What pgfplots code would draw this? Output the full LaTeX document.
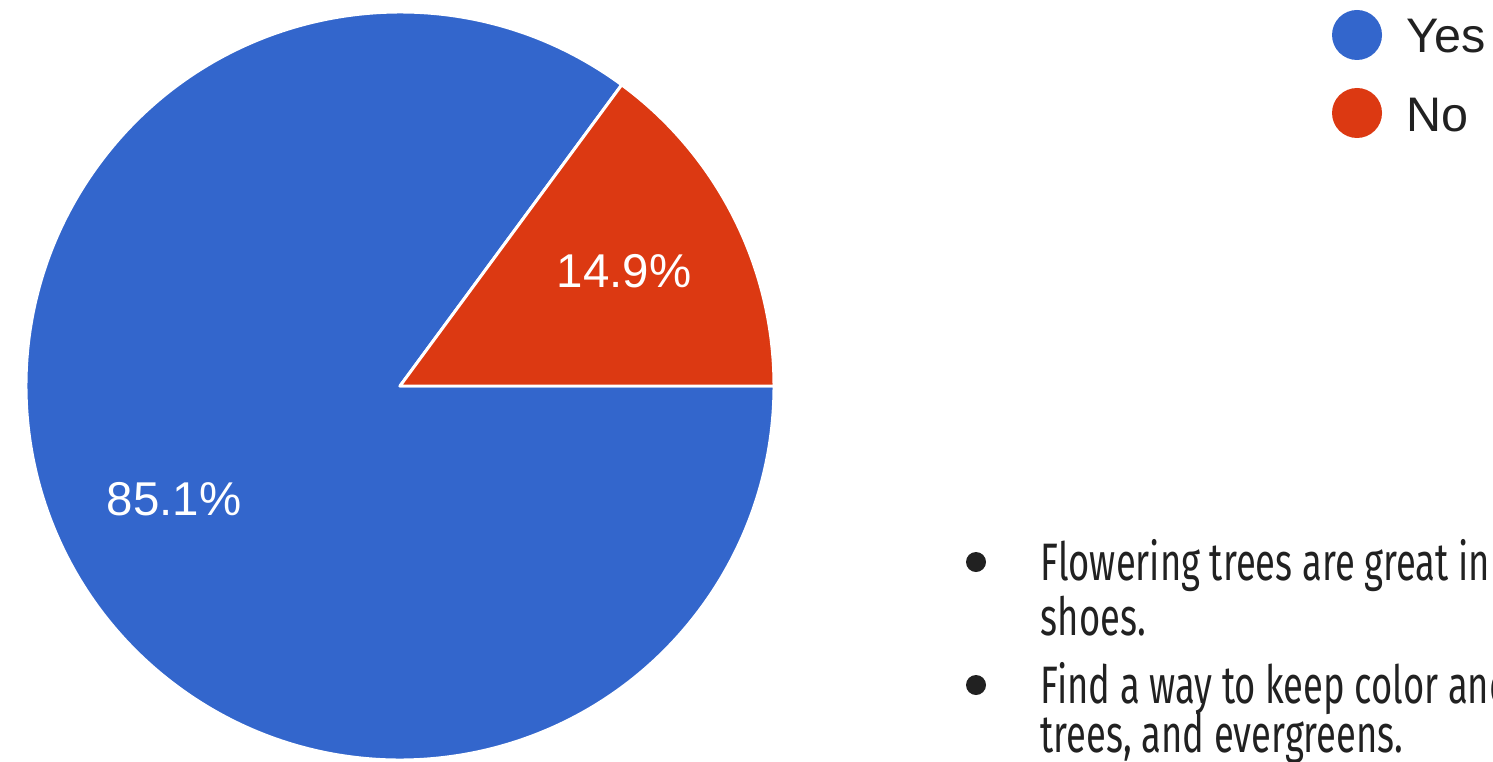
\documentclass[border=0pt]{standalone}
\usepackage{pgfplots}
\pgfplotsset{compat=1.18}
\usepackage{pgfplotstable}
\usepackage{fontspec}
\setmainfont{Liberation Sans}
\newfontfamily\condfont[FakeStretch=0.69]{Fira Sans}
\definecolor{pieBlue}{HTML}{3366CC}
\definecolor{pieRed}{HTML}{DC3912}
\definecolor{txt}{HTML}{212121}
\pgfplotstableread{
label value
Yes 85.1
No 14.9
}\piedata
\begin{document}
\begin{tikzpicture}
\pgfplotstablegetelem{0}{value}\of\piedata \let\yesval\pgfplotsretval
\pgfplotstablegetelem{1}{value}\of\piedata \let\noval\pgfplotsretval
\pgfmathsetmacro\noangle{3.6*\noval}
\useasboundingbox (0,0) rectangle (14.93cm,7.61cm);
\clip (0,0) rectangle (14.93cm,7.61cm);
\begin{axis}[at={(0,0)}, anchor=south west, scale only axis,
  width=14.93cm, height=7.61cm, xmin=0, xmax=1493, ymin=0, ymax=761,
  hide axis, clip=false]
\filldraw[fill=pieBlue, draw=white, line width=0.85pt, line join=round] (axis cs:400,375) -- ++(\noangle:3.74cm) arc[start angle=\noangle, end angle=360, radius=3.74cm] -- cycle;
\filldraw[fill=pieRed, draw=white, line width=0.85pt, line join=round] (axis cs:400,375) -- ++(0:3.74cm) arc[start angle=0, end angle=\noangle, radius=3.74cm] -- cycle;
\node[text=white, anchor=base, inner sep=0pt, font=\fontsize{13.5pt}{16pt}\selectfont] at (axis cs:624,474) {\noval\%};
\node[text=white, anchor=base, inner sep=0pt, font=\fontsize{13.5pt}{16pt}\selectfont] at (axis cs:174,246) {\yesval\%};
% legend
\fill[pieBlue] (axis cs:1357,726) circle[radius=2.5mm];
\fill[pieRed] (axis cs:1357,648) circle[radius=2.5mm];
\node[text=txt, anchor=base west, inner sep=0pt, font=\fontsize{13.8pt}{16pt}\selectfont] at (axis cs:1406,708) {Yes};
\node[text=txt, anchor=base west, inner sep=0pt, font=\fontsize{13.8pt}{16pt}\selectfont] at (axis cs:1406,629) {No};
% bullet notes
\fill[txt] (axis cs:976,199) circle[radius=1mm];
\fill[txt] (axis cs:976,76) circle[radius=1mm];
\node[text=txt, anchor=base west, inner sep=0pt, font=\condfont\fontsize{15pt}{16pt}\selectfont] at (axis cs:1040,181) {Flowering trees are great in};
\node[text=txt, anchor=base west, inner sep=0pt, font=\condfont\fontsize{15pt}{16pt}\selectfont] at (axis cs:1040,126) {shoes.};
\node[text=txt, anchor=base west, inner sep=0pt, font=\condfont\fontsize{15pt}{16pt}\selectfont] at (axis cs:1040,58) {Find a way to keep color and};
\node[text=txt, anchor=base west, inner sep=0pt, font=\condfont\fontsize{15pt}{16pt}\selectfont] at (axis cs:1040,9) {trees, and evergreens.};
\end{axis}
\end{tikzpicture}
\end{document}
